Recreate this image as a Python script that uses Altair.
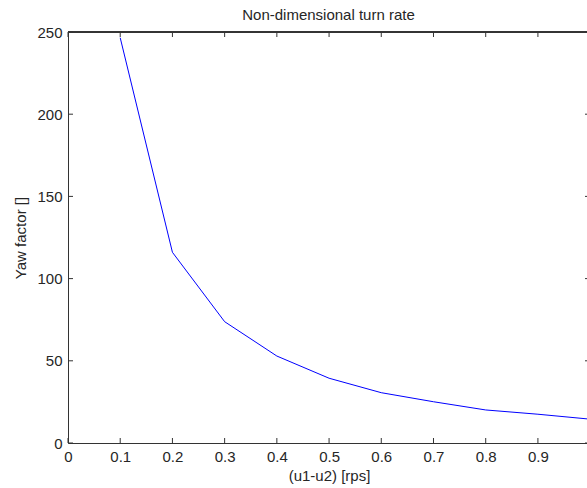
import altair as alt
import pandas as pd

# Data
x_vals = [0.1, 0.2, 0.3, 0.4, 0.5, 0.6, 0.7, 0.8, 0.9, 1.0]
y_vals = [246.5, 116.0, 73.8, 52.9, 39.4, 30.6, 25.1, 20.1, 17.5, 14.5]
x_ticks = [0, 0.1, 0.2, 0.3, 0.4, 0.5, 0.6, 0.7, 0.8, 0.9]
y_ticks = [0, 50, 100, 150, 200, 250]
x_max = 0.994   # visible end of the x range (the frame is cut by the window)
y_max = 250

df = pd.DataFrame({"x": x_vals, "y": y_vals})
xt = pd.DataFrame({"tx": x_ticks})
yt = pd.DataFrame({"ty": y_ticks})

FONT = "Liberation Sans"
INK = "#262626"
AXC = "#333333"

W, H = 519, 411

xscale = alt.Scale(domain=[0, x_max], nice=False, zero=False)
yscale = alt.Scale(domain=[0, y_max], nice=False, zero=False)

# main layer: line + labelled axes (ticks drawn separately, pointing inward)
main = alt.Chart(df).mark_line(color="#0000ff", strokeWidth=1, clip=True).encode(
    x=alt.X("x:Q", scale=xscale, axis=alt.Axis(
        orient="bottom", values=x_ticks, format=".1~f", ticks=False, tickSize=0,
        grid=False, domain=True, domainColor=AXC, labelPadding=6, labelFlush=False,
        labelFont=FONT, labelFontSize=15, labelColor=INK,
        title="(u1-u2) [rps]", titleFont=FONT, titleFontSize=15, titleFontWeight="normal",
        titleColor=INK, titleX=261, titleY=25, titleBaseline="top", titleAnchor="middle")),
    y=alt.Y("y:Q", scale=yscale, axis=alt.Axis(
        orient="left", values=y_ticks, ticks=False, tickSize=0,
        grid=False, domain=True, domainColor=AXC, labelPadding=6, labelFlush=False,
        labelFont=FONT, labelFontSize=15, labelColor=INK,
        title="Yaw factor []", titleFont=FONT, titleFontSize=15, titleFontWeight="normal",
        titleColor=INK, titleAngle=270, titleX=-48, titleY=205.5, titleBaseline="middle",
        titleAlign="center")),
)

# top frame line
top_line = alt.Chart(yt).mark_rule(color=AXC, strokeWidth=1).encode(
    x=alt.XDatum(0, axis=None), x2=alt.X2Datum(x_max),
    y=alt.YDatum(y_max, axis=None),
)

# inward ticks: bottom and top
bottom_ticks = alt.Chart(xt).mark_rule(color=AXC, strokeWidth=1, y2Offset=-5).encode(
    x=alt.X("tx:Q", axis=None), y=alt.YDatum(0, axis=None), y2=alt.Y2Datum(0),
)
top_ticks = alt.Chart(xt).mark_rule(color=AXC, strokeWidth=1, y2Offset=5).encode(
    x=alt.X("tx:Q", axis=None), y=alt.YDatum(y_max, axis=None), y2=alt.Y2Datum(y_max),
)
# inward ticks: left and right
left_ticks = alt.Chart(yt).mark_rule(color=AXC, strokeWidth=1, x2Offset=5).encode(
    y=alt.Y("ty:Q", axis=None), x=alt.XDatum(0, axis=None), x2=alt.X2Datum(0),
)
right_ticks = alt.Chart(yt).mark_rule(color=AXC, strokeWidth=1, x2Offset=-2).encode(
    y=alt.Y("ty:Q", axis=None), x=alt.XDatum(x_max, axis=None), x2=alt.X2Datum(x_max),
)

chart = alt.layer(main, top_line, bottom_ticks, top_ticks, left_ticks, right_ticks).resolve_axis(
    x="independent", y="independent"
).properties(
    width=W, height=H,
    title=alt.TitleParams("Non-dimensional turn rate", font=FONT, fontSize=15,
                          fontWeight="normal", color=INK, anchor="middle",
                          baseline="alphabetic", offset=0, dy=10, dx=1),
    autosize=alt.AutoSizeParams(type="none"),
    padding={"left": 68, "top": 32, "right": 0, "bottom": 45},
).configure_view(stroke=None).configure(background="white")

chart.save("out.html", embed_options={"renderer": "svg", "actions": False})
